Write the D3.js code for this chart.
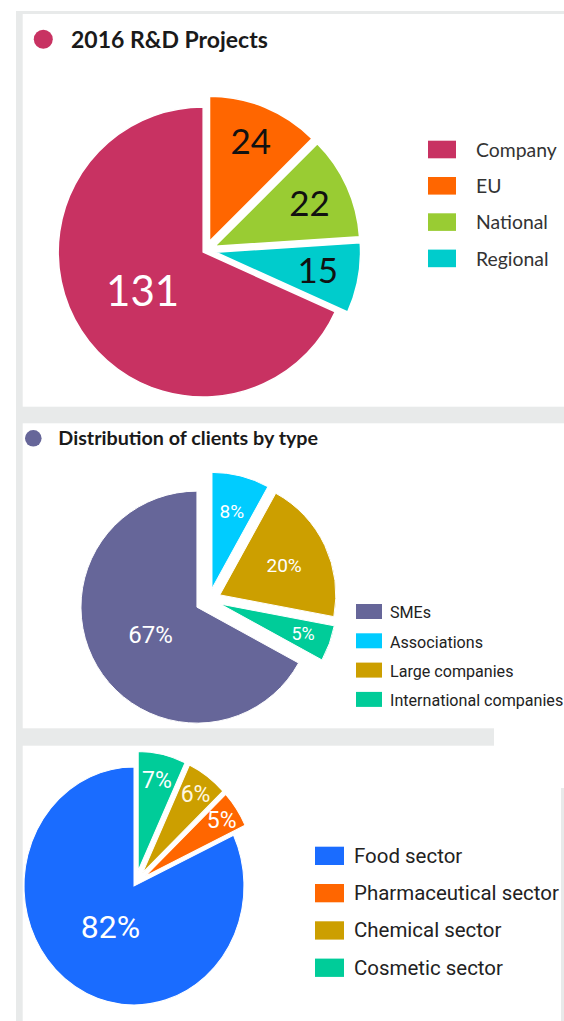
<!DOCTYPE html>
<html>
<head>
<meta charset="utf-8">
<script src="https://cdn.jsdelivr.net/npm/d3@7"></script>
<style>
  html, body { margin: 0; padding: 0; background: #ffffff; }
  svg { display: block; }
</style>
</head>
<body>
<script>
// ---------------- DATA ----------------
const rdTitle = "2016 R&D Projects";
const rdCategories = ["Company", "EU", "National", "Regional"];
const rdValues = [131, 24, 22, 15];

const clientTitle = "Distribution of clients by type";
const clientCategories = ["SMEs", "Associations", "Large companies", "International companies"];
const clientValues = [67, 8, 20, 5];

const sectorCategories = ["Food sector", "Pharmaceutical sector", "Chemical sector", "Cosmetic sector"];
const sectorValues = [82, 5, 6, 7];

// ---------------- STYLE ----------------
const GEO_FONT = "Lato, 'Noto Sans', 'DejaVu Sans', sans-serif";
const COND_FONT = "Roboto, 'Liberation Sans', sans-serif";

const W = 564, H = 1021;
const svg = d3.select("body").append("svg").attr("width", W).attr("height", H);

// Background frame and panels
svg.append("rect").attr("x", 0).attr("y", 0).attr("width", W).attr("height", H).attr("fill", "#ffffff");
svg.append("rect").attr("x", 16).attr("y", 11).attr("width", W - 16).attr("height", H - 11).attr("fill", "#e8eaea");
svg.append("rect").attr("x", 22.7).attr("y", 14).attr("width", W - 22.7).attr("height", 392.7).attr("fill", "#ffffff");
svg.append("rect").attr("x", 22.7).attr("y", 423.3).attr("width", W - 22.7).attr("height", 305).attr("fill", "#ffffff");
svg.append("rect").attr("x", 494).attr("y", 728).attr("width", W - 494).attr("height", 60).attr("fill", "#ffffff");
svg.append("rect").attr("x", 22.7).attr("y", 745.7).attr("width", 561 - 22.7).attr("height", H - 745.7).attr("fill", "#ffffff");

function fitWidth(sel, w) {
  const len = sel.node().getComputedTextLength();
  const fs = parseFloat(sel.attr("font-size"));
  if (len > 0) sel.attr("font-size", fs * w / len);
}

function drawTitle(t) {
  svg.append("circle").attr("cx", t.dotX).attr("cy", t.dotY).attr("r", t.dotR).attr("fill", t.dotColor);
  const tx = svg.append("text")
    .attr("x", t.x).attr("y", t.y)
    .attr("font-family", GEO_FONT).attr("font-weight", 700)
    .attr("font-size", t.size).attr("fill", "#1a1a1a")
    .text(t.text);
  fitWidth(tx, t.width);
}

function drawPie(cfg) {
  const items = cfg.order.map(i => ({ idx: i, name: cfg.categories[i], value: cfg.values[i] }));
  const arcs = d3.pie().sort(null).value(d => d.value)(items);
  const arcGen = d3.arc().innerRadius(0).outerRadius(cfg.r);
  const g = svg.append("g").attr("transform", `translate(${cfg.cx},${cfg.cy}) scale(1,${cfg.sy})`);
  const color = d3.scaleOrdinal().domain(cfg.categories).range(cfg.colors);

  g.selectAll("path").data(arcs).join("path")
    .attr("d", arcGen)
    .attr("fill", d => color(d.data.name))
    .attr("stroke", "#ffffff")
    .attr("stroke-width", cfg.stroke)
    .attr("transform", d => {
      const e = cfg.explode[d.data.idx];
      const c = d3.arc().innerRadius(e).outerRadius(e).centroid(d);
      return `translate(${c[0]},${c[1]})`;
    });

  const lg = svg.append("g").attr("transform", `translate(${cfg.cx},${cfg.cy})`);
  lg.selectAll("text").data(arcs).join("text")
    .each(function (d) {
      const rr = cfg.explode[d.data.idx] + cfg.labelR[d.data.idx];
      const c = d3.arc().innerRadius(rr).outerRadius(rr).centroid(d);
      d3.select(this).attr("x", c[0]).attr("y", c[1] * cfg.sy);
    })
    .attr("text-anchor", "middle")
    .attr("dy", "0.36em")
    .attr("font-family", cfg.labelFont)
    .attr("font-weight", cfg.labelWeight)
    .attr("font-size", d => cfg.labelSize[d.data.idx])
    .attr("fill", d => cfg.labelColor[d.data.idx])
    .text(d => cfg.format(d.data.value));
}

function drawLegend(cfg) {
  const color = d3.scaleOrdinal().domain(cfg.categories).range(cfg.colors);
  const g = svg.append("g");
  const rows = g.selectAll("g").data(cfg.categories).join("g")
    .attr("transform", (d, i) => `translate(${cfg.x},${cfg.y + i * cfg.step})`);
  rows.append("rect").attr("width", cfg.sw).attr("height", cfg.sh).attr("fill", d => color(d));
  const texts = rows.append("text")
    .attr("x", cfg.tx).attr("y", cfg.baseline)
    .attr("font-family", cfg.font)
    .attr("font-size", cfg.size)
    .attr("fill", cfg.textColor)
    .text(d => d);
  const ref = texts.filter((d, i) => i === cfg.fitIndex);
  const len = ref.node().getComputedTextLength();
  texts.attr("font-size", cfg.size * cfg.fitWidth / len);
}

// ---------------- CHART 1 ----------------
const rdColors = ["#c83262", "#ff6600", "#99cc33", "#00cccc"];
drawTitle({ text: rdTitle, x: 71, y: 48.3, size: 23, width: 197, dotX: 43.3, dotY: 39.3, dotR: 9.5, dotColor: rdColors[0] });
drawPie({
  categories: rdCategories, values: rdValues, colors: rdColors,
  order: [1, 2, 3, 0],
  cx: 205.7, cy: 250.4, r: 145, sy: 1,
  explode: [3, 10, 10, 10],
  stroke: 1.5,
  labelR: [72, 108, 104, 104],
  labelFont: GEO_FONT, labelWeight: 400,
  labelSize: [42, 35, 35, 35],
  labelColor: ["#ffffff", "#111111", "#111111", "#111111"],
  format: v => String(v)
});
drawLegend({
  categories: rdCategories, colors: rdColors,
  x: 428, y: 140.7, step: 36.3, sw: 28, sh: 17.6,
  tx: 48, baseline: 16, font: GEO_FONT, size: 19, textColor: "#333333",
  fitIndex: 2, fitWidth: 72
});

// ---------------- CHART 2 ----------------
const clientColors = ["#666699", "#00ccff", "#cc9f00", "#00cc99"];
drawTitle({ text: clientTitle, x: 58.3, y: 445, size: 20, width: 260, dotX: 33.3, dotY: 438.3, dotR: 8.3, dotColor: clientColors[0] });
drawPie({
  categories: clientCategories, values: clientValues, colors: clientColors,
  order: [1, 2, 3, 0],
  cx: 209, cy: 600, r: 116, sy: 1,
  explode: [14, 12, 12, 12],
  stroke: 1,
  labelR: [54, 80, 71, 88],
  labelFont: COND_FONT, labelWeight: 400,
  labelSize: [24, 19, 19, 18],
  labelColor: ["#ffffff", "#ffffff", "#ffffff", "#ffffff"],
  format: v => v + "%"
});
drawLegend({
  categories: clientCategories, colors: clientColors,
  x: 356, y: 604, step: 29.3, sw: 26, sh: 15,
  tx: 34, baseline: 14.3, font: COND_FONT, size: 16.5, textColor: "#222222",
  fitIndex: 1, fitWidth: 93
});

// ---------------- CHART 3 ----------------
const sectorColors = ["#1a6cff", "#ff6600", "#cc9f00", "#00cc99"];
drawPie({
  categories: sectorCategories, values: sectorValues, colors: sectorColors,
  order: [3, 2, 1, 0],
  cx: 135.6, cy: 883.2, r: 110, sy: 1.082,
  explode: [3, 12, 12, 12],
  stroke: 1,
  labelR: [44, 92, 90, 86],
  labelFont: COND_FONT, labelWeight: 400,
  labelSize: [32, 23, 23, 23],
  labelColor: ["#ffffff", "#ffffff", "#fff8e0", "#ffffff"],
  format: v => v + "%"
});
drawLegend({
  categories: sectorCategories, colors: sectorColors,
  x: 315, y: 846.7, step: 37.3, sw: 29, sh: 18.3,
  tx: 39, baseline: 16, font: COND_FONT, size: 21, textColor: "#222222",
  fitIndex: 1, fitWidth: 205
});
</script>
</body>
</html>
